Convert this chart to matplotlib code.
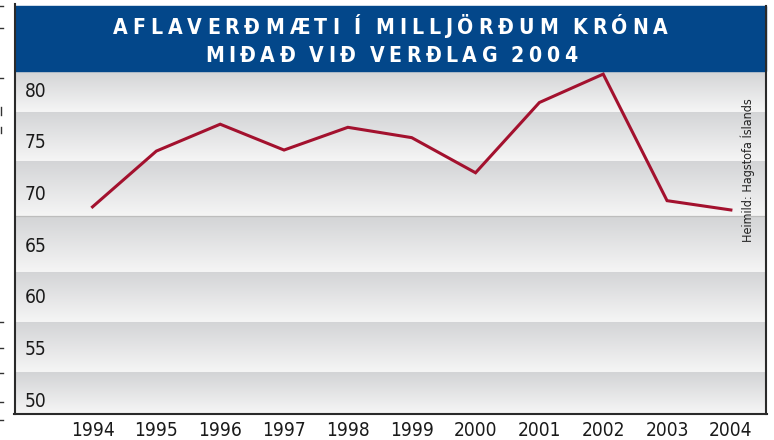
import numpy as np
import matplotlib
matplotlib.use('Agg')
import matplotlib.pyplot as plt
import matplotlib.transforms as mtransforms
from matplotlib import font_manager as fm
from matplotlib.colors import LinearSegmentedColormap
from matplotlib.lines import Line2D
from matplotlib.patches import Rectangle

# data (billions ISK, 2004 prices)
years = [1994, 1995, 1996, 1997, 1998, 1999, 2000, 2001, 2002, 2003, 2004]
values = [68.5, 73.9, 76.5, 74.0, 76.2, 75.2, 71.8, 78.6, 81.35, 69.1, 68.2]
ytick_values = [80, 75, 70, 65, 60, 55, 50]
title_lines = ['AFLAVERÐMÆTI Í MILLJÖRÐUM KRÓNA', 'MIÐAÐ VIÐ VERÐLAG 2004']
source = 'Heimild: Hagstofa Íslands'

# background stripes (value edges), as in the printed graphic
band_edges = [48.55, 52.5, 57.35, 62.2, 67.6, 72.95, 77.7, 81.65]


def find_narrow(bold):
    """look for a condensed face, the original uses a narrow grotesque"""
    prefs = ['liberationsansnarrow', 'dejavusanscondensed', 'robotocondensed',
             'notosanscondensed', 'opensanscondensed', 'condensed', 'narrow']
    best, rank = None, len(prefs)
    for f in fm.fontManager.ttflist:
        base = f.fname.split('/')[-1].lower().replace('-', '').replace('_', '')
        if 'italic' in base or 'oblique' in base or 'mono' in base:
            continue
        if bold != ('bold' in base and 'semibold' not in base and 'extrabold' not in base):
            continue
        for i, p in enumerate(prefs):
            if p in base and i < rank:
                best, rank = f.fname, i
    return best


reg = find_narrow(False)
bld = find_narrow(True)
if reg:
    FP = fm.FontProperties(fname=reg)
else:
    FP = fm.FontProperties(family=['Liberation Sans', 'DejaVu Sans'])
if bld:
    FPB = fm.FontProperties(fname=bld)
else:
    FPB = fm.FontProperties(family=['Liberation Sans', 'DejaVu Sans'], weight='bold')

W, H = 774, 440
fig = plt.figure(figsize=(W / 100, H / 100), dpi=100)
r = fig.canvas.get_renderer()


def fx(x):
    return x / W


def fy(y):
    return 1 - y / H


def text_w(s, fp, size):
    t = fig.text(0, 0, s, fontproperties=fp, fontsize=size)
    w = t.get_window_extent(r).width
    t.remove()
    return w


# label size: between matching the glyph height and the width of "1994"
size_w = 15 * 37 / text_w('1994', FP, 15)
LAB = 0.6 * 15 + 0.4 * size_w if size_w < 15 else 15

ax = fig.add_axes([fx(14), fy(413), (766 - 14) / W, (413 - 71) / H])
xmin, xmax = 1992.77, 2004.55
ymin, ymax = band_edges[0], band_edges[-1]

# gradient bands: darker at the top of each band, light at the bottom
cmap = LinearSegmentedColormap.from_list('band', ['#d3d4d6', '#f5f5f5'])
grad = np.linspace(0, 1, 64).reshape(-1, 1)
for lo, hi in zip(band_edges[:-1], band_edges[1:]):
    ax.imshow(grad, cmap=cmap, aspect='auto', origin='upper',
              extent=[xmin, xmax, lo, hi], zorder=0)
ax.axhline(67.6, color='#bdbdbd', lw=0.9, zorder=1)

ax.plot(years, values, color='#a3112e', lw=2.2, solid_joinstyle='miter', zorder=3)

ax.set_xlim(xmin, xmax)
ax.set_ylim(ymin, ymax)
for s in ax.spines.values():
    s.set_visible(False)
ax.set_yticks([])
ax.set_xticks(years, [str(y) for y in years])
ax.tick_params(axis='x', length=0, pad=6, labelcolor='#1a1a1a')
for lab in ax.get_xticklabels():
    lab.set_fontproperties(FP)
    lab.set_fontsize(LAB)

# value labels sit inside the plot, left aligned
trans = mtransforms.blended_transform_factory(ax.transAxes, ax.transData)
trans = trans + mtransforms.ScaledTranslation(0, -8.5 / 100, fig.dpi_scale_trans)
for v in ytick_values:
    ax.text((25 - 14) / 752, v, str(v), transform=trans, ha='left', va='baseline',
            fontproperties=FP, fontsize=LAB, color='#1a1a1a', zorder=4)

# blue title banner
fig.patches.append(Rectangle((fx(15), fy(71)), (766 - 15) / W, (71 - 6) / H,
                             transform=fig.transFigure, color='#03478a', zorder=0))


def spaced_text(line, x0, x1, base_y, size):
    """letter-spaced title between pixel x0 and x1"""
    widths = []
    for ch in line:
        if ch == ' ':
            widths.append(size * 100 / 72 * 0.22)
        else:
            widths.append(text_w(ch, FPB, size))
    track = (x1 - x0 - sum(widths)) / (len(line) - 1)
    x = x0
    for ch, w in zip(line, widths):
        if ch != ' ':
            fig.text(fx(x), fy(base_y), ch, fontproperties=FPB, fontsize=size,
                     color='white', ha='left', va='baseline')
        x += w + track


# keep some tracking even if the bold face is wide
tsize = 16.5
w0 = sum(text_w(c, FPB, tsize) for c in title_lines[0] if c != ' ')
if w0 > 360:
    tsize = tsize * 360 / w0 * 0.5 + tsize * 0.5
spaced_text(title_lines[0], 113, 668, 33.5, tsize)
spaced_text(title_lines[1], 205, 577, 62, tsize)

fig.text(fx(748), fy(170), source, rotation=90, ha='center', va='center',
         fontproperties=FP, fontsize=9 if reg else 8, color='#222222')

# frame
frame = dict(color='#2a2a2a', lw=1.5, transform=fig.transFigure)
fig.lines.append(Line2D([fx(15), fx(15)], [fy(4), fy(414)], **frame))
fig.lines.append(Line2D([fx(766), fx(766)], [fy(6), fy(414)], **frame))
fig.lines.append(Line2D([fx(14), fx(767)], [fy(413.5), fy(413.5)], **frame))

# crop marks on the left page edge
for y in [6, 28, 78, 322, 348, 373, 402, 420]:
    fig.lines.append(Line2D([0, fx(3)], [fy(y), fy(y)], color='#333333', lw=1,
                            transform=fig.transFigure))
for y0, y1 in [(107, 115), (127, 133)]:
    fig.lines.append(Line2D([fx(1), fx(1)], [fy(y0), fy(y1)], color='#333333', lw=1,
                            transform=fig.transFigure))

fig.savefig('out.png', dpi=100)
